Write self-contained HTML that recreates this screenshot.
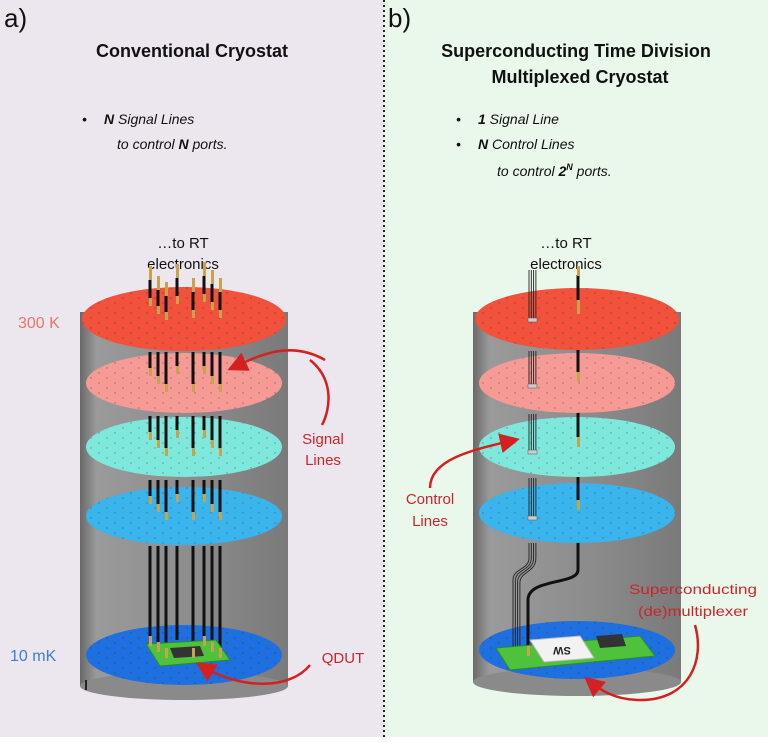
<!DOCTYPE html>
<html><head><meta charset="utf-8"><style>
html,body{margin:0;padding:0}
body{width:768px;height:737px;overflow:hidden;font-family:"Liberation Sans",sans-serif}
</style></head><body>
<svg width="768" height="737" viewBox="0 0 768 737" xmlns="http://www.w3.org/2000/svg" font-family="Liberation Sans, sans-serif">
<defs>
<pattern id="dots" width="16" height="10" patternUnits="userSpaceOnUse"><circle cx="3" cy="3" r="0.7" fill="#333" opacity="0.5"/><circle cx="11" cy="8" r="0.7" fill="#333" opacity="0.5"/></pattern>
<linearGradient id="cyl" x1="0" x2="1"><stop offset="0" stop-color="#6a6a6a"/><stop offset="0.08" stop-color="#9a9a9a"/><stop offset="0.5" stop-color="#8e8e8e"/><stop offset="1" stop-color="#7a7a7a"/></linearGradient>
<marker id="ah" markerWidth="8" markerHeight="8" refX="6" refY="4" orient="auto"><path d="M0,0 L8,4 L0,8 Z" fill="#d42020"/></marker>
</defs>
<rect x="0" y="0" width="384" height="737" fill="#ece7ee"/>
<rect x="384" y="0" width="384" height="737" fill="#eaf8ec"/>
<line x1="384" y1="0" x2="384" y2="737" stroke="#222" stroke-width="2" stroke-dasharray="2,3"/>

<text x="4" y="27" font-size="26" fill="#111">a)</text>
<text x="388" y="27" font-size="26" fill="#111">b)</text>
<text x="192" y="57" font-size="18" font-weight="bold" text-anchor="middle" fill="#111">Conventional Cryostat</text>
<text x="576" y="57" font-size="18" font-weight="bold" text-anchor="middle" fill="#111">Superconducting Time Division</text>
<text x="580" y="83" font-size="18" font-weight="bold" text-anchor="middle" fill="#111">Multiplexed Cryostat</text>
<g font-size="14" font-style="italic" fill="#111">
<text x="82" y="124">•</text><text x="104" y="124"><tspan font-weight="bold">N</tspan> Signal Lines</text>
<text x="117" y="149">to control <tspan font-weight="bold">N</tspan> ports.</text>
<text x="456" y="124">•</text><text x="478" y="124"><tspan font-weight="bold">1</tspan> Signal Line</text>
<text x="456" y="149">•</text><text x="478" y="149"><tspan font-weight="bold">N</tspan> Control Lines</text>
<text x="497" y="176">to control <tspan font-weight="bold">2<tspan font-size="9" dy="-6">N</tspan></tspan><tspan dy="6"> ports.</tspan></text>
</g>
<g font-size="15" fill="#111" text-anchor="middle">
<text x="183" y="248">…to RT</text><text x="183" y="269">electronics</text>
<text x="566" y="248">…to RT</text><text x="566" y="269">electronics</text>
</g>
<text x="18" y="328" font-size="16" fill="#e8776a">300 K</text>
<text x="10" y="661" font-size="16" fill="#3d7fd0">10 mK</text>
<g font-size="15" fill="#c8262a" text-anchor="middle">
<text x="323" y="444">Signal</text><text x="323" y="465">Lines</text>
<text x="343" y="663">QDUT</text>
<text x="430" y="504">Control</text><text x="430" y="526">Lines</text>
</g>

<!-- LEFT cylinder -->
<rect x="80" y="312" width="208" height="374" fill="url(#cyl)"/>
<ellipse cx="184" cy="686" rx="104" ry="14" fill="#8a8a8a"/>
<line x1="86" y1="680" x2="86" y2="690" stroke="#222" stroke-width="2"/>

<ellipse cx="184" cy="319" rx="102" ry="32" fill="#f2513c"/><ellipse cx="184" cy="319" rx="102" ry="32" fill="url(#dots)"/>
<ellipse cx="184" cy="383" rx="98" ry="30" fill="#f59a94"/><ellipse cx="184" cy="383" rx="98" ry="30" fill="url(#dots)"/>
<ellipse cx="184" cy="447" rx="98" ry="30" fill="#7ee8dc"/><ellipse cx="184" cy="447" rx="98" ry="30" fill="url(#dots)"/>
<ellipse cx="184" cy="516" rx="98" ry="29" fill="#3ab4ec"/><ellipse cx="184" cy="516" rx="98" ry="29" fill="url(#dots)"/>
<ellipse cx="184" cy="655" rx="98" ry="30" fill="#1e6fe0"/><ellipse cx="184" cy="655" rx="98" ry="30" fill="url(#dots)"/>

<g stroke="#111" stroke-width="3">
<line x1="150" y1="280" x2="150" y2="298"/><line x1="158" y1="290" x2="158" y2="306"/><line x1="166" y1="296" x2="166" y2="312"/><line x1="177" y1="278" x2="177" y2="296"/><line x1="193" y1="292" x2="193" y2="310"/><line x1="204" y1="276" x2="204" y2="294"/><line x1="212" y1="284" x2="212" y2="302"/><line x1="220" y1="292" x2="220" y2="310"/>
<line x1="150" y1="352" x2="150" y2="368"/><line x1="158" y1="352" x2="158" y2="376"/><line x1="166" y1="352" x2="166" y2="384"/><line x1="177" y1="352" x2="177" y2="366"/><line x1="193" y1="352" x2="193" y2="384"/><line x1="204" y1="352" x2="204" y2="366"/><line x1="212" y1="352" x2="212" y2="376"/><line x1="220" y1="352" x2="220" y2="384"/>
<line x1="150" y1="416" x2="150" y2="432"/><line x1="158" y1="416" x2="158" y2="440"/><line x1="166" y1="416" x2="166" y2="448"/><line x1="177" y1="416" x2="177" y2="430"/><line x1="193" y1="416" x2="193" y2="448"/><line x1="204" y1="416" x2="204" y2="430"/><line x1="212" y1="416" x2="212" y2="440"/><line x1="220" y1="416" x2="220" y2="448"/>
<line x1="150" y1="480" x2="150" y2="496"/><line x1="158" y1="480" x2="158" y2="504"/><line x1="166" y1="480" x2="166" y2="512"/><line x1="177" y1="480" x2="177" y2="494"/><line x1="193" y1="480" x2="193" y2="512"/><line x1="204" y1="480" x2="204" y2="494"/><line x1="212" y1="480" x2="212" y2="504"/><line x1="220" y1="480" x2="220" y2="512"/>
<line x1="150" y1="546" x2="150" y2="636"/><line x1="158" y1="546" x2="158" y2="642"/><line x1="166" y1="546" x2="166" y2="648"/><line x1="177" y1="546" x2="177" y2="640"/><line x1="193" y1="546" x2="193" y2="648"/><line x1="204" y1="546" x2="204" y2="636"/><line x1="212" y1="546" x2="212" y2="642"/><line x1="220" y1="546" x2="220" y2="648"/>
</g>
<g fill="#c7a34a">
<rect x="149" y="266" width="3" height="14"/><rect x="157" y="276" width="3" height="14"/><rect x="165" y="282" width="3" height="14"/><rect x="176" y="264" width="3" height="14"/><rect x="192" y="278" width="3" height="14"/><rect x="203" y="262" width="3" height="14"/><rect x="211" y="270" width="3" height="14"/><rect x="219" y="278" width="3" height="14"/>
<rect x="149" y="298" width="3" height="8"/><rect x="157" y="306" width="3" height="8"/><rect x="165" y="312" width="3" height="8"/><rect x="176" y="296" width="3" height="8"/><rect x="192" y="310" width="3" height="8"/><rect x="203" y="294" width="3" height="8"/><rect x="211" y="302" width="3" height="8"/><rect x="219" y="310" width="3" height="8"/>
<rect x="149" y="368" width="3" height="8"/><rect x="157" y="376" width="3" height="8"/><rect x="165" y="384" width="3" height="8"/><rect x="176" y="366" width="3" height="8"/><rect x="192" y="384" width="3" height="8"/><rect x="203" y="366" width="3" height="8"/><rect x="211" y="376" width="3" height="8"/><rect x="219" y="384" width="3" height="8"/>
<rect x="149" y="432" width="3" height="8"/><rect x="157" y="440" width="3" height="8"/><rect x="165" y="448" width="3" height="8"/><rect x="176" y="430" width="3" height="8"/><rect x="192" y="448" width="3" height="8"/><rect x="203" y="430" width="3" height="8"/><rect x="211" y="440" width="3" height="8"/><rect x="219" y="448" width="3" height="8"/>
<rect x="149" y="496" width="3" height="8"/><rect x="157" y="504" width="3" height="8"/><rect x="165" y="512" width="3" height="8"/><rect x="176" y="494" width="3" height="8"/><rect x="192" y="512" width="3" height="8"/><rect x="203" y="494" width="3" height="8"/><rect x="211" y="504" width="3" height="8"/><rect x="219" y="512" width="3" height="8"/>
</g>
<polygon points="146,644 216,640 230,660 160,666" fill="#4ec23a" stroke="#2d8a2a"/>
<polygon points="170,648 200,646 204,656 174,658" fill="#333"/>
<g fill="#c7a34a"><rect x="149" y="636" width="3" height="10"/><rect x="157" y="642" width="3" height="10"/><rect x="165" y="648" width="3" height="10"/><rect x="192" y="648" width="3" height="10"/><rect x="203" y="636" width="3" height="10"/><rect x="211" y="642" width="3" height="10"/><rect x="219" y="648" width="3" height="10"/></g>
<path d="M310,360 C335,380 330,410 322,425" fill="none" stroke="#d42020" stroke-width="2.5"/>
<path d="M325,360 C290,340 260,355 232,368" fill="none" stroke="#d42020" stroke-width="2.5" marker-end="url(#ah)"/>
<path d="M310,665 C290,690 240,690 200,665" fill="none" stroke="#d42020" stroke-width="2.5" marker-end="url(#ah)"/>

<!-- RIGHT cylinder -->
<rect x="473" y="312" width="208" height="370" fill="url(#cyl)"/>
<ellipse cx="577" cy="682" rx="104" ry="14" fill="#8a8a8a"/>
<ellipse cx="577" cy="319" rx="102" ry="31" fill="#f2513c"/><ellipse cx="577" cy="319" rx="102" ry="31" fill="url(#dots)"/>
<ellipse cx="577" cy="383" rx="98" ry="30" fill="#f59a94"/><ellipse cx="577" cy="383" rx="98" ry="30" fill="url(#dots)"/>
<ellipse cx="577" cy="447" rx="98" ry="30" fill="#7ee8dc"/><ellipse cx="577" cy="447" rx="98" ry="30" fill="url(#dots)"/>
<ellipse cx="577" cy="513" rx="98" ry="30" fill="#3ab4ec"/><ellipse cx="577" cy="513" rx="98" ry="30" fill="url(#dots)"/>
<ellipse cx="577" cy="650" rx="98" ry="29" fill="#1e6fe0"/><ellipse cx="577" cy="650" rx="98" ry="29" fill="url(#dots)"/>
<g stroke="#222" stroke-width="0.9" fill="none">
<line x1="529" y1="270" x2="529" y2="320"/><line x1="531.3" y1="270" x2="531.3" y2="320"/><line x1="533.6" y1="270" x2="533.6" y2="320"/><line x1="535.9" y1="270" x2="535.9" y2="320"/>
<line x1="529" y1="351" x2="529" y2="386"/><line x1="531.3" y1="351" x2="531.3" y2="386"/><line x1="533.6" y1="351" x2="533.6" y2="386"/><line x1="535.9" y1="351" x2="535.9" y2="386"/>
<line x1="529" y1="414" x2="529" y2="452"/><line x1="531.3" y1="414" x2="531.3" y2="452"/><line x1="533.6" y1="414" x2="533.6" y2="452"/><line x1="535.9" y1="414" x2="535.9" y2="452"/>
<line x1="529" y1="478" x2="529" y2="518"/><line x1="531.3" y1="478" x2="531.3" y2="518"/><line x1="533.6" y1="478" x2="533.6" y2="518"/><line x1="535.9" y1="478" x2="535.9" y2="518"/>
<path d="M529,543 V558 C529,570 513,568 513,580 V655"/><path d="M531.3,543 V558 C531.3,571 515.3,569 515.3,581 V655"/><path d="M533.6,543 V558 C533.6,572 517.6,570 517.6,582 V655"/><path d="M535.9,543 V558 C535.9,573 519.9,571 519.9,583 V655"/>
</g>
<g fill="#ccc" stroke="#555" stroke-width="0.5"><rect x="528" y="318" width="9" height="4"/><rect x="528" y="384" width="9" height="4"/><rect x="528" y="450" width="9" height="4"/><rect x="528" y="516" width="9" height="4"/></g>
<g stroke="#111" stroke-width="3" fill="none">
<line x1="578" y1="275" x2="578" y2="300"/><line x1="578" y1="350" x2="578" y2="372"/><line x1="578" y1="413" x2="578" y2="437"/><line x1="578" y1="477" x2="578" y2="500"/>
<path d="M578,543 V570 C578,585 528,578 528,600 V648"/>
</g>
<g fill="#c7a34a"><rect x="577" y="266" width="3" height="10"/><rect x="577" y="300" width="3" height="14"/><rect x="577" y="372" width="3" height="10"/><rect x="577" y="437" width="3" height="10"/><rect x="577" y="500" width="3" height="10"/></g>
<polygon points="496,648 640,636 655,656 510,670" fill="#4ec23a" stroke="#2d8a2a"/>
<polygon points="530,640 580,636 594,658 544,662" fill="#f2f2f2" stroke="#bbb"/>
<text x="562" y="655" font-size="11" font-weight="bold" text-anchor="middle" fill="#222" transform="rotate(180 562 651)">SW</text>
<polygon points="596,636 622,634 626,646 600,648" fill="#333"/>
<rect x="527" y="646" width="3" height="10" fill="#c7a34a"/>
<path d="M695,625 C705,660 690,700 640,700 C615,700 600,690 588,680" fill="none" stroke="#d42020" stroke-width="2.5" marker-end="url(#ah)"/>
<path d="M430,488 C430,460 470,450 515,440" fill="none" stroke="#d42020" stroke-width="2.5" marker-end="url(#ah)"/>
<g font-size="14" fill="#c8262a">
<text x="629" y="594" textLength="128" lengthAdjust="spacingAndGlyphs">Superconducting</text>
<text x="638" y="616" textLength="110" lengthAdjust="spacingAndGlyphs">(de)multiplexer</text>
</g>
</svg>
</body></html>
